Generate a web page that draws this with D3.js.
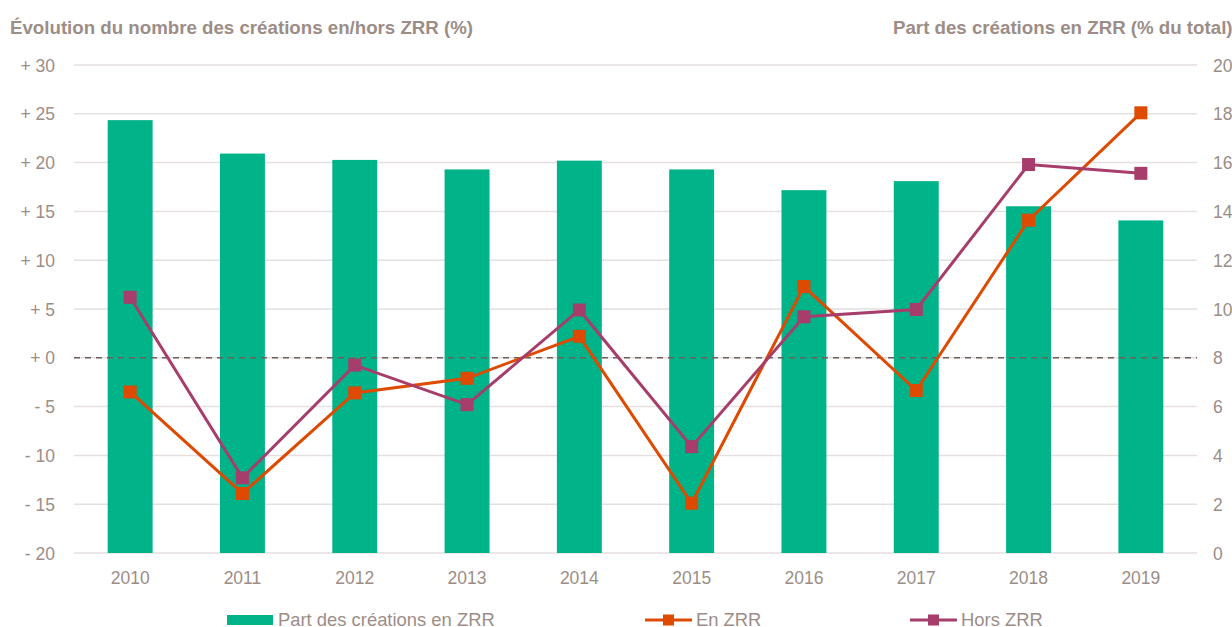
<!DOCTYPE html>
<html>
<head>
<meta charset="utf-8">
<script src="https://cdn.jsdelivr.net/npm/d3@7"></script>
<style>
  body { margin: 0; background: #fff; overflow: hidden; }
  text { font-family: "Liberation Sans", Arial, sans-serif; fill: #9c8d87; }
</style>
</head>
<body>
<script>
const years = ['2010', '2011', '2012', '2013', '2014', '2015', '2016', '2017', '2018', '2019']
const partZRR = [17.74, 16.37, 16.11, 15.72, 16.08, 15.72, 14.87, 15.24, 14.21, 13.63]
const enZRR = [-3.5, -13.9, -3.6, -2.1, 2.2, -14.9, 7.3, -3.35, 14.1, 25.1]
const horsZRR = [6.2, -12.3, -0.75, -4.8, 4.9, -9.1, 4.2, 4.95, 19.8, 18.9]
const leftTicks = [30, 25, 20, 15, 10, 5, 0, -5, -10, -15, -20]
const rightTicks = [0, 2, 4, 6, 8, 10, 12, 14, 16, 18, 20]

const width = 1232
const height = 627
const margin = {top: 65, right: 35, bottom: 74, left: 74}

const green = '#00b388'
const orange = '#dd4a00'
const purple = '#a63d6b'

const svg = d3.select('body')
  .append('svg')
  .attr('width', width)
  .attr('height', height)

const x = d3.scaleBand()
  .domain(years)
  .range([margin.left, width - margin.right])
  .paddingInner(0.6)
  .paddingOuter(0.3)

const y = d3.scaleLinear()
  .domain([-20, 30])
  .range([height - margin.bottom, margin.top])

const y2 = d3.scaleLinear()
  .domain([0, 20])
  .range([height - margin.bottom, margin.top])

const cx = (d) => x(d) + x.bandwidth() / 2

// grid
svg.append('g')
  .selectAll('line')
  .data(leftTicks)
  .enter()
  .append('line')
  .attr('x1', margin.left)
  .attr('x2', width - margin.right)
  .attr('y1', (d) => y(d))
  .attr('y2', (d) => y(d))
  .attr('stroke', '#e5dfdf')
  .attr('stroke-width', 1.5)

// left axis
const leftAxis = svg.append('g')
  .attr('transform', `translate(${margin.left - 16},0)`)
  .call(d3.axisLeft(y).tickValues(leftTicks).tickSize(0)
    .tickFormat((d) => (d < 0 ? '- ' : '+ ') + Math.abs(d)))
leftAxis.select('.domain').remove()
leftAxis.selectAll('text').attr('font-size', 17.5).attr('dy', '0.35em')

// right axis
const rightAxis = svg.append('g')
  .attr('transform', `translate(${width - margin.right + 16},0)`)
  .call(d3.axisRight(y2).tickValues(rightTicks).tickSize(0))
rightAxis.select('.domain').remove()
rightAxis.selectAll('text').attr('font-size', 17.5).attr('dy', '0.35em').attr('x', 0)

// x axis
const xAxis = svg.append('g')
  .attr('transform', `translate(0,${height - margin.bottom + 12})`)
  .call(d3.axisBottom(x).tickSize(0))
xAxis.select('.domain').remove()
xAxis.selectAll('text').attr('font-size', 17.5).attr('dy', '0.9em')

// bars
svg.append('g')
  .selectAll('rect')
  .data(years)
  .enter()
  .append('rect')
  .attr('x', (d) => x(d))
  .attr('width', x.bandwidth())
  .attr('y', (d, i) => y2(partZRR[i]))
  .attr('height', (d, i) => y2(0) - y2(partZRR[i]))
  .attr('fill', green)

// zero line
svg.append('line')
  .attr('x1', margin.left)
  .attr('x2', width - margin.right)
  .attr('y1', y(0))
  .attr('y2', y(0))
  .attr('stroke', '#6e605c')
  .attr('stroke-width', 1.5)
  .attr('stroke-dasharray', '6,5')

const drawSeries = (values, color) => {
  const line = d3.line()
    .x((d, i) => cx(years[i]))
    .y((d) => y(d))
  svg.append('path')
    .datum(values)
    .attr('d', line)
    .attr('fill', 'none')
    .attr('stroke', color)
    .attr('stroke-width', 3)
  svg.append('g')
    .selectAll('rect')
    .data(values)
    .enter()
    .append('rect')
    .attr('x', (d, i) => cx(years[i]) - 6.5)
    .attr('y', (d) => y(d) - 6.5)
    .attr('width', 13)
    .attr('height', 13)
    .attr('fill', color)
}

drawSeries(enZRR, orange)
drawSeries(horsZRR, purple)

// titles
svg.append('text')
  .attr('x', 10)
  .attr('y', 34)
  .attr('font-size', 18.7)
  .attr('font-weight', 'bold')
  .text('Évolution du nombre des créations en/hors ZRR (%)')

svg.append('text')
  .attr('x', 893)
  .attr('y', 34)
  .attr('font-size', 18.7)
  .attr('font-weight', 'bold')
  .text('Part des créations en ZRR (% du total)')

// legend
const legY = 620
const legend = svg.append('g')
legend.append('rect')
  .attr('x', 227).attr('y', legY - 5).attr('width', 46).attr('height', 10)
  .attr('fill', green)
legend.append('text')
  .attr('x', 278).attr('y', legY).attr('dy', '0.35em')
  .attr('font-size', 18.4)
  .text('Part des créations en ZRR')

const legLines = [
  {x: 645, color: orange, label: 'En ZRR'},
  {x: 910, color: purple, label: 'Hors ZRR'}
]
for (const l of legLines) {
  legend.append('line')
    .attr('x1', l.x).attr('x2', l.x + 47)
    .attr('y1', legY).attr('y2', legY)
    .attr('stroke', l.color).attr('stroke-width', 3)
  legend.append('rect')
    .attr('x', l.x + 18).attr('y', legY - 5.5).attr('width', 11).attr('height', 11)
    .attr('fill', l.color)
  legend.append('text')
    .attr('x', l.x + 51).attr('y', legY).attr('dy', '0.35em')
    .attr('font-size', 18.4)
    .text(l.label)
}
</script>
</body>
</html>
